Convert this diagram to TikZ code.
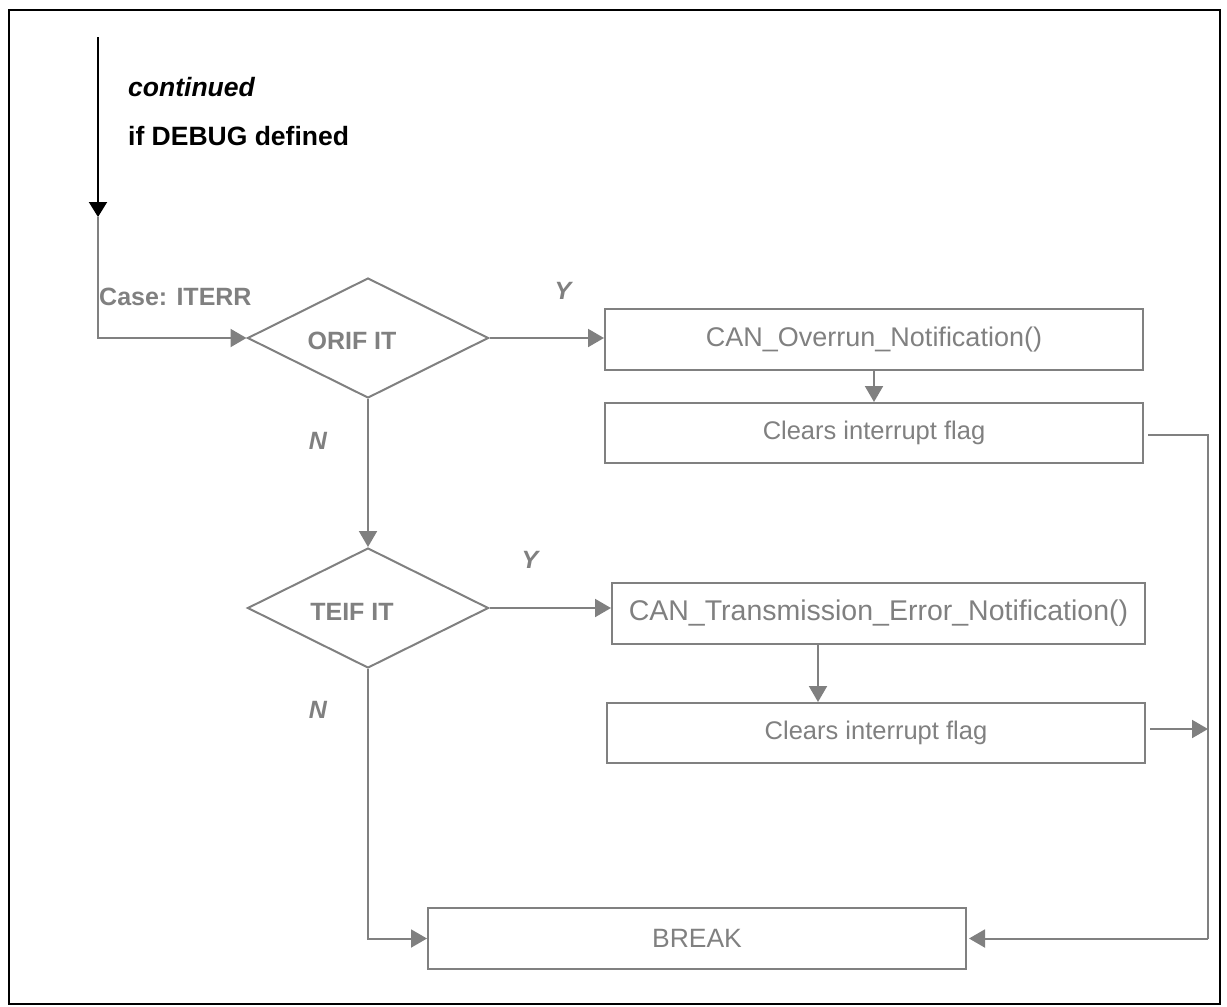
\documentclass[tikz,border=0pt]{standalone}
\usepackage{fontspec}
\setmainfont{Liberation Sans}
\usetikzlibrary{arrows.meta,shapes.geometric,calc}
\definecolor{fg}{HTML}{808080}
\begin{document}
\begin{tikzpicture}[x=1pt,y=-1pt,
  gline/.style={draw=fg,line width=2pt},
  arr/.style={draw=fg,line width=2pt,-{Triangle[length=16pt,width=18pt]}},
  procbox/.style={draw=fg,line width=2pt,minimum width=538pt,minimum height=61pt,inner sep=0pt,font=\fontsize{25.5}{30}\selectfont,text=fg},
  decbox/.style={diamond,draw=fg,line width=2pt,minimum width=241pt,minimum height=120pt,inner sep=0pt},
  gbold/.style={font=\fontsize{25}{30}\selectfont\bfseries,text=fg,inner sep=0pt},
  gyn/.style={font=\fontsize{25}{30}\selectfont\bfseries\itshape,text=fg,inner sep=0pt},
  kbold/.style={font=\fontsize{26.5}{30}\selectfont\bfseries,text=black,inner sep=0pt,anchor=west},
]
\useasboundingbox (0,0) rectangle (1227,1007);
\draw[line width=2pt] (9,10) rectangle (1220,1004);

% top texts
\node[kbold,font=\fontsize{26.5}{30}\selectfont\bfseries\itshape] (cont) at (128,87) {continued};
\node[kbold] (dbg) at (128,136) {if DEBUG defined};

% incoming arrow
\coordinate (top) at (98,37);
\coordinate (jct) at (98,217);
\draw[line width=2pt,-{Triangle[length=15pt,width=18pt]}] (top) -- (jct);

% decisions
\node[decbox] (d1) at (368,338) {};
\node[gbold] (d1t) at (352,341) {ORIF IT};
\node[decbox] (d2) at (368,608) {};
\node[gbold] (d2t) at (352,612) {TEIF IT};

\node[gbold,anchor=west] (case) at (99,297) {Case: ITERR};
\node[gyn] (y1) at (563,291) {Y};
\node[gyn] (n1) at (318,441) {N};
\node[gyn] (y2) at (530,560) {Y};
\node[gyn] (n2) at (318,710) {N};

% process boxes
\node[procbox,font=\fontsize{27}{30}\selectfont] (b1) at (874,339.5) {CAN\_Overrun\_Notification()};
\node[procbox,minimum height=60pt] (b2) at (874,433) {Clears interrupt flag};
\node[procbox,minimum width=533pt,font=\fontsize{28.5}{30}\selectfont] (b3) at (878.5,613.5) {CAN\_Transmission\_Error\_Notification()};
\node[procbox,minimum height=60pt] (b4) at (876,733) {Clears interrupt flag};
\node[procbox,font=\fontsize{26.5}{30}\selectfont] (brk) at (697,938.5) {BREAK};

\coordinate (rtop) at (1208,435);
\coordinate (rin) at (1208,729);

% connectors
\draw[arr] (jct) |- (d1.west);
\draw[arr] (d1.east) -- (d1.east -| b1.west);
\draw[arr] (b1.south) -- (b2.north);
\draw[arr] (d1.south) -- (d2.north);
\draw[arr] (d2.east) -- (d2.east -| b3.west);
\draw[arr] ([xshift=-60.5pt]b3.south) -- ([xshift=-60.5pt]b3.south |- b4.north);
\draw[gline] ([xshift=4pt]b2.east |- rtop) -- (rtop) -- (rtop |- brk.east);
\draw[arr] (rtop |- brk.east) -- ([xshift=2pt]brk.east);
\draw[arr] ([xshift=4pt]b4.east |- rin) -- (rin);
\draw[arr] (d2.south) |- (brk.west);
\end{tikzpicture}
\end{document}
